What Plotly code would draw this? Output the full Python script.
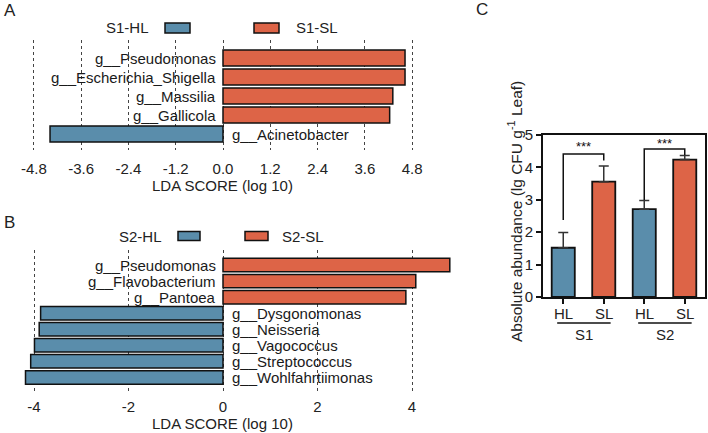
import plotly.graph_objects as go

# ---------------- data ----------------
a_taxa = ["g__Pseudomonas", "g__Escherichia_Shigella", "g__Massilia", "g__Gallicola", "g__Acinetobacter"]
a_lda = [4.62, 4.62, 4.31, 4.23, -4.39]
a_ticks = [-4.8, -3.6, -2.4, -1.2, 0.0, 1.2, 2.4, 3.6, 4.8]

b_taxa = ["g__Pseudomonas", "g__Flavobacterium", "g__Pantoea", "g__Dysgonomonas",
          "g__Neisseria", "g__Vagococcus", "g__Streptococcus", "g__Wohlfahrtiimonas"]
b_lda = [4.80, 4.08, 3.87, -3.86, -3.89, -3.99, -4.07, -4.18]
b_ticks = [-4, -2, 0, 2, 4]

c_groups = ["HL", "SL", "HL", "SL"]
c_sites = ["S1", "S2"]
c_values = [1.52, 3.56, 2.71, 4.24]
c_err = [0.47, 0.48, 0.27, 0.13]
# significance brackets: (left idx, right idx, left-leg bottom, top, right-leg bottom, star y)
c_sig = [(0, 1, 2.38, 4.41, 4.21, 4.66), (2, 3, 2.99, 4.57, 4.38, 4.75)]

BLUE = "#5A8DAB"
RED = "#DD6447"
FONT = "Liberation Sans, Arial, sans-serif"
W, H = 708, 433

def px(x):
    return x / W

def py(y):
    return 1 - y / H

fig = go.Figure()

# ---------------- panel A ----------------
a_colors = [RED if v > 0 else BLUE for v in a_lda]
fig.add_trace(go.Bar(x=a_lda, y=list(range(len(a_taxa))), orientation="h",
                     marker=dict(color=a_colors, line=dict(color="#111", width=1.5)),
                     width=0.84, xaxis="x", yaxis="y", showlegend=False))

# ---------------- panel B ----------------
b_colors = [RED if v > 0 else BLUE for v in b_lda]
fig.add_trace(go.Bar(x=b_lda, y=list(range(len(b_taxa))), orientation="h",
                     marker=dict(color=b_colors, line=dict(color="#111", width=1.5)),
                     width=0.84, xaxis="x2", yaxis="y2", showlegend=False))

# ---------------- panel C ----------------
fig.add_trace(go.Bar(x=list(range(len(c_values))), y=c_values,
                     marker=dict(color=[BLUE, RED, BLUE, RED], line=dict(color="#111", width=1.8)),
                     width=0.57,
                     error_y=dict(type="data", array=c_err, arrayminus=[0] * len(c_err),
                                  symmetric=False, color="#333", thickness=1.5, width=5),
                     xaxis="x3", yaxis="y3", showlegend=False))

annotations = []
shapes = []

def lda_labels(taxa, vals, xref, yref):
    for i, (t, v) in enumerate(zip(taxa, vals)):
        if v > 0:
            annotations.append(dict(x=0, y=i, xref=xref, yref=yref, text=t, showarrow=False,
                                    xanchor="right", xshift=-5, font=dict(size=15, color="#1a1a1a")))
        else:
            annotations.append(dict(x=0, y=i, xref=xref, yref=yref, text=t, showarrow=False,
                                    xanchor="left", xshift=7, font=dict(size=15, color="#1a1a1a")))

lda_labels(a_taxa, a_lda, "x", "y")
lda_labels(b_taxa, b_lda, "x2", "y2")

# legends (A and B)
def legend(y, lab_hl, lab_sl, hl_text_right, hl_rect, sl_rect, sl_text_left, h):
    annotations.append(dict(x=px(hl_text_right), y=py(y), xref="paper", yref="paper", text=lab_hl,
                            showarrow=False, xanchor="right", yanchor="middle", font=dict(size=15)))
    annotations.append(dict(x=px(sl_text_left), y=py(y), xref="paper", yref="paper", text=lab_sl,
                            showarrow=False, xanchor="left", yanchor="middle", font=dict(size=15)))
    for (x0, x1), c in ((hl_rect, BLUE), (sl_rect, RED)):
        shapes.append(dict(type="rect", xref="paper", yref="paper", x0=px(x0), x1=px(x1),
                           y0=py(y + h / 2), y1=py(y - h / 2), fillcolor=c,
                           line=dict(color="#111", width=1.5)))

legend(28, "S1-HL", "S1-SL", 151, (165, 190), (254, 279), 294, 10)
legend(236, "S2-HL", "S2-SL", 164, (178, 200), (245, 268), 280, 9)

# axis titles for A and B
for yy in (185, 423):
    annotations.append(dict(x=px(222), y=py(yy), xref="paper", yref="paper",
                            text="LDA SCORE (log 10)", showarrow=False,
                            xanchor="center", yanchor="middle", font=dict(size=15)))

# panel letters
for lab, xx, yy in (("A", 10, 10), ("B", 9, 222), ("C", 482, 9)):
    annotations.append(dict(x=px(xx), y=py(yy), xref="paper", yref="paper", text=lab,
                            showarrow=False, xanchor="center", yanchor="middle",
                            font=dict(size=17, color="#222")))

# panel C: y title
annotations.append(dict(x=px(515), y=py(212), xref="paper", yref="paper",
                        text="Absolute abundance (lg CFU g<sup>-1</sup> Leaf)", textangle=-90,
                        showarrow=False, xanchor="center", yanchor="middle", font=dict(size=15.5)))

# panel C: x group labels (HL / SL) under ticks
for i, g in enumerate(c_groups):
    annotations.append(dict(x=i, y=py(313), xref="x3", yref="paper", text=g, showarrow=False,
                            xanchor="center", yanchor="middle", font=dict(size=15, color="#222")))

# panel C: significance brackets
for l, r, yl, yt, yr, ys in c_sig:
    shapes.append(dict(type="path", xref="x3", yref="y3",
                       path=f"M {l},{yl} L {l},{yt} L {r},{yt} L {r},{yr}",
                       line=dict(color="#111", width=1.5)))
    annotations.append(dict(x=(l + r) / 2, y=ys, xref="x3", yref="y3", text="***",
                            showarrow=False, xanchor="center", yanchor="middle",
                            font=dict(size=13, color="#111")))

# panel C: site underlines and labels
for k, site in enumerate(c_sites):
    x0 = 2 * k - 0.15
    x1 = 2 * k + 1.17
    shapes.append(dict(type="line", xref="x3", yref="paper", x0=x0, x1=x1,
                       y0=py(323), y1=py(323), line=dict(color="#111", width=1.5)))
    annotations.append(dict(x=2 * k + 0.5, y=py(334), xref="x3", yref="paper", text=site,
                            showarrow=False, xanchor="center", yanchor="middle", font=dict(size=15)))

def grid_axis(ticklen):
    return dict(showgrid=True, griddash="dot", gridcolor="#444", gridwidth=1,
                zeroline=False, showline=False, ticks="outside", ticklen=ticklen,
                tickcolor="rgba(0,0,0,0)",
                tickfont=dict(size=15, color="#222"),
                automargin=False)

fig.update_layout(
    width=W, height=H, margin=dict(l=0, r=0, t=0, b=0, autoexpand=False),
    paper_bgcolor="white", plot_bgcolor="white",
    font=dict(family=FONT, size=15, color="#222"),
    bargap=0.1,
    xaxis=dict(domain=[px(10), px(460)],
               range=[(10 - 223) / 39.4, (460 - 223) / 39.4],
               tickvals=a_ticks, ticktext=[f"{t:.1f}" for t in a_ticks],
               anchor="y", **grid_axis(5)),
    yaxis=dict(domain=[py(150), py(40)], range=[4.84, -0.95], showticklabels=False,
               showgrid=False, zeroline=False, showline=False, anchor="x", automargin=False),
    xaxis2=dict(domain=[px(10), px(460)],
                range=[(10 - 223) / 47.25, (460 - 223) / 47.25],
                tickvals=b_ticks, ticktext=[str(t) for t in b_ticks],
                anchor="y2", **grid_axis(1)),
    yaxis2=dict(domain=[py(392), py(250)], range=[7.91, -0.94], showticklabels=False,
                showgrid=False, zeroline=False, showline=False, anchor="x2", automargin=False),
    xaxis3=dict(domain=[px(543), px(705)], range=[-0.5, 3.5],
                tickvals=list(range(len(c_groups))), showticklabels=False,
                showline=True, linecolor="#111", linewidth=1.8, mirror=True,
                ticks="outside", ticklen=5, tickwidth=1.5, tickcolor="#111",
                showgrid=False, zeroline=False, anchor="y3", automargin=False),
    yaxis3=dict(domain=[py(297), py(135)], range=[0, 5], tickvals=[0, 1, 2, 3, 4, 5],
                showline=True, linecolor="#111", linewidth=1.8, mirror=True,
                ticks="outside", ticklen=5, tickwidth=1.5, tickcolor="#111",
                showgrid=False, zeroline=False, anchor="x3", automargin=False,
                tickfont=dict(size=15, color="#222")),
    annotations=annotations,
    shapes=shapes,
)

fig.write_html("out.html", config={"displayModeBar": False},
               post_script="document.body.style.margin='0';document.body.style.overflow='hidden';")
